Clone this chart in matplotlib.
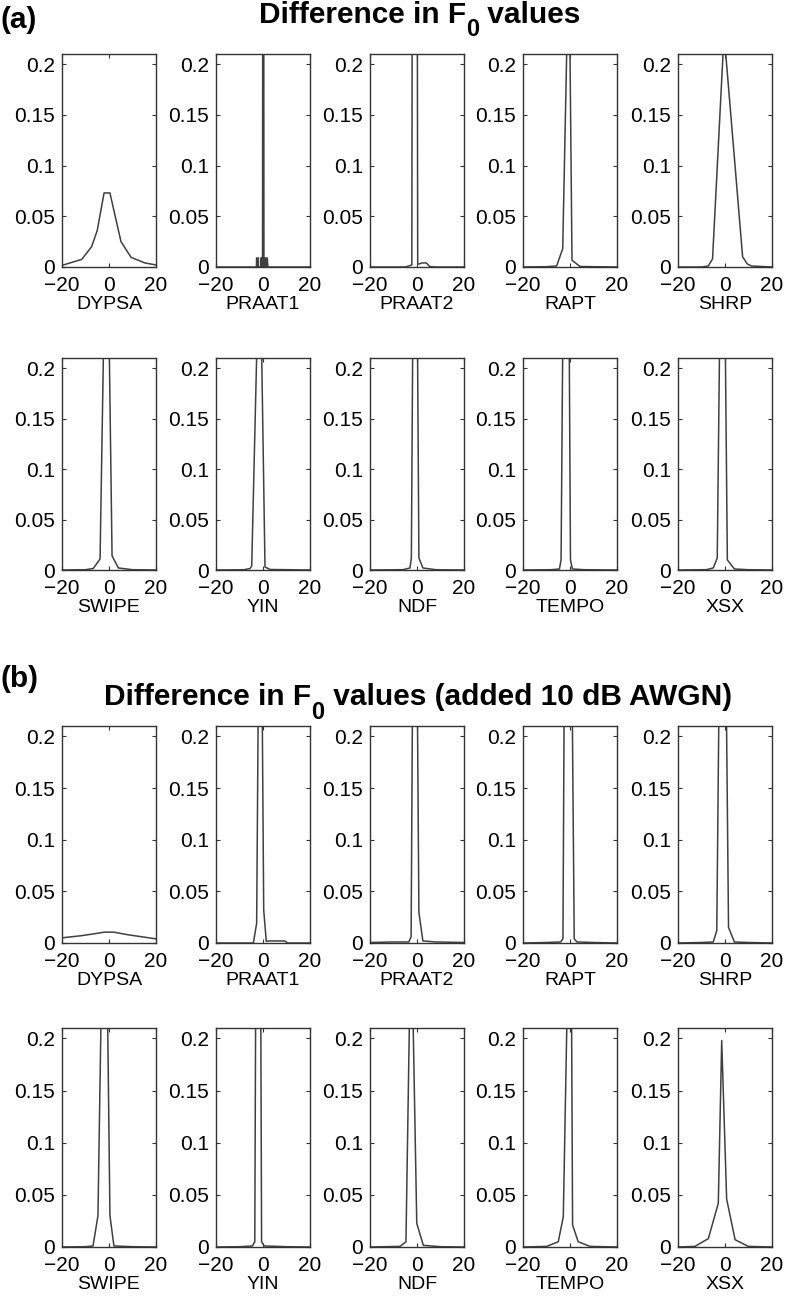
import matplotlib
matplotlib.use('Agg')
import matplotlib.pyplot as plt

plt.rcParams['font.family'] = ['Liberation Sans', 'DejaVu Sans']
plt.rcParams['axes.unicode_minus'] = True

methods = ['DYPSA', 'PRAAT1', 'PRAAT2', 'RAPT', 'SHRP',
           'SWIPE', 'YIN', 'NDF', 'TEMPO', 'XSX']

# (a) clean speech: difference in F0 values (x in Hz, y = relative frequency)
a_dypsa_x = [-20, -11.6, -7.4, -5, -2.1, 0.4, 5.1, 9.4, 15.3, 20]
a_dypsa_y = [0.0016, 0.0075, 0.02, 0.036, 0.073, 0.073, 0.025, 0.0095, 0.004, 0.002]
a_praat1_x = [-20, -2.8, -2.7, -2.6, -2.1, -2.0, -1.9, -0.9, -0.85, -0.6, -0.4,
              -0.2, 0.1, 0.4, 0.6, 0.9, 1.2, 1.5, 1.8, 2.1, 20]
a_praat1_y = [0, 0, 0.009, 0, 0, 0.009, 0, 0, 0.009, 0, 0.009,
              0, 1.0, 0, 0.009, 0, 0.009, 0, 0.009, 0, 0]
a_praat2_x = [-20, -5, -2.2, -1, 0.3, 1, 2, 4, 5.4, 8, 20]
a_praat2_y = [0, 0, 0.002, 2.0, 0.003, 0.003, 0.004, 0.004, 0.0005, 0, 0]
a_rapt_x = [-20, -10, -5.7, -3.1, -0.45, 0.85, 4.3, 10, 20]
a_rapt_y = [0, 0.0003, 0.001, 0.018, 0.32, 0.0066, 0.0005, 0.0003, 0]
a_shrp_x = [-20, -10, -7.1, -5.3, -0.4, 7.5, 9.5, 11.3, 20]
a_shrp_y = [0, 0, 0.001, 0.008, 0.23, 0.01, 0.003, 0.001, 0]
a_swipe_x = [-20, -10, -6.7, -3.8, -1, 1.3, 4, 10, 20]
a_swipe_y = [0, 0.0003, 0.0015, 0.011, 0.41, 0.014, 0.002, 0.0003, 0]
a_yin_x = [-20, -8, -5.5, -4.8, -1.4, 0.85, 3, 10, 20]
a_yin_y = [0, 0.0003, 0.0015, 0.004, 0.34, 0.003, 0.0005, 0.0003, 0]
a_ndf_x = [-20, -6, -3, -2.4, -0.8, 0.8, 2.5, 8, 20]
a_ndf_y = [0, 0.0003, 0.002, 0.012, 0.6, 0.012, 0.002, 0.0003, 0]
a_tempo_x = [-20, -8, -4.5, -3.8, -1.5, 0.2, 1, 6, 20]
a_tempo_y = [0, 0.0003, 0.001, 0.01, 0.7, 0.01, 0.001, 0.0003, 0]
a_xsx_x = [-20, -8, -5, -3.3, -1, 1, 4, 10, 20]
a_xsx_y = [0, 0.0003, 0.002, 0.012, 0.5, 0.01, 0.001, 0.0003, 0]

# (b) speech with added 10 dB AWGN
b_dypsa_x = [-20, -12, -6, -2, 2, 8, 14, 20]
b_dypsa_y = [0.005, 0.007, 0.009, 0.0105, 0.0105, 0.008, 0.006, 0.004]
b_praat1_x = [-20, -4.1, -2.7, -1.2, 0.3, 1.4, 2.5, 9.2, 10.5, 20]
b_praat1_y = [0, 0, 0.019, 0.49, 0.032, 0.0016, 0.002, 0.002, 0, 0]
b_praat2_x = [-20, -10, -3.5, -2.5, -1, 0.8, 2.5, 8, 20]
b_praat2_y = [0.0005, 0.001, 0.001, 0.006, 0.6, 0.03, 0.002, 0.001, 0.0005]
b_rapt_x = [-20, -10, -4, -3, -1.2, 1.8, 3, 10, 20]
b_rapt_y = [0, 0.0005, 0.001, 0.004, 0.8, 0.004, 0.001, 0.0005, 0]
b_shrp_x = [-20, -10, -5, -3.5, -1, 1.5, 4, 10, 20]
b_shrp_y = [0, 0.0005, 0.001, 0.012, 0.6, 0.015, 0.001, 0.0005, 0]
b_swipe_x = [-20, -10, -6.8, -4.7, -1.8, 0.4, 2.1, 10, 20]
b_swipe_y = [0, 0.0003, 0.001, 0.03, 0.45, 0.03, 0.001, 0.0003, 0]
b_yin_x = [-20, -10, -4.5, -3.5, -2, -0.6, 0.5, 10, 20]
b_yin_y = [0, 0.0003, 0.001, 0.005, 0.9, 0.005, 0.001, 0.0003, 0]
b_ndf_x = [-20, -7.2, -4.7, -2.5, -0.1, 2.7, 10, 20]
b_ndf_y = [0, 0.0006, 0.005, 0.32, 0.0226, 0.0016, 0.0003, 0]
b_tempo_x = [-20, -9.9, -5, -2.85, 0.26, 1.1, 3.5, 8.5, 20]
b_tempo_y = [0, 0.0006, 0.005, 0.029, 0.41, 0.021, 0.005, 0.0006, 0]
b_xsx_x = [-20, -12.8, -7.1, -2.85, -1.4, 0.7, 4.3, 9.9, 20]
b_xsx_y = [0, 0.0006, 0.008, 0.042, 0.198, 0.046, 0.007, 0.0006, 0]

series_a = [(a_dypsa_x, a_dypsa_y), (a_praat1_x, a_praat1_y), (a_praat2_x, a_praat2_y),
            (a_rapt_x, a_rapt_y), (a_shrp_x, a_shrp_y), (a_swipe_x, a_swipe_y),
            (a_yin_x, a_yin_y), (a_ndf_x, a_ndf_y), (a_tempo_x, a_tempo_y),
            (a_xsx_x, a_xsx_y)]
series_b = [(b_dypsa_x, b_dypsa_y), (b_praat1_x, b_praat1_y), (b_praat2_x, b_praat2_y),
            (b_rapt_x, b_rapt_y), (b_shrp_x, b_shrp_y), (b_swipe_x, b_swipe_y),
            (b_yin_x, b_yin_y), (b_ndf_x, b_ndf_y), (b_tempo_x, b_tempo_y),
            (b_xsx_x, b_xsx_y)]

W, H = 785, 1298
fig = plt.figure(figsize=(W / 100, H / 100), dpi=100)

# panel layout in pixels
lefts = [62, 216, 370, 523, 678]
panel_w = 94
rows = [(54, 267), (358, 570), (726, 943), (1028, 1247)]

line_col = '#404040'
axis_col = '#333333'


def draw_panel(ax, x, y, label):
    ax.plot(x, y, color=line_col, lw=1.1)
    ax.set_xlim(-20, 20)
    ax.set_ylim(0, 0.21)
    ax.set_xticks([-20, 0, 20])
    ax.set_yticks([0, 0.05, 0.1, 0.15, 0.2])
    ax.set_yticklabels(['0', '0.05', '0.1', '0.15', '0.2'])
    ax.tick_params(direction='in', top=True, right=True, length=3,
                   labelsize=15, color=axis_col)
    ax.tick_params(axis='x', pad=6.5)
    ax.tick_params(axis='y', pad=5)
    for s in ax.spines.values():
        s.set_color(axis_col)
        s.set_linewidth(1.0)
    ax.set_xlabel(label, fontsize=14, labelpad=1)


for r, (top, bot) in enumerate(rows):
    data = series_a if r < 2 else series_b
    for c in range(5):
        idx = (r % 2) * 5 + c
        ax = fig.add_axes([lefts[c] / W, 1 - bot / H, panel_w / W, (bot - top) / H])
        x, y = data[idx]
        draw_panel(ax, x, y, methods[idx])


def title_with_sub(xc, y_base, y_sub, before, sub, after):
    # bold title with a deep subscript, placed piece by piece
    renderer = fig.canvas.get_renderer()
    kw = dict(fontweight='bold', va='baseline', ha='left')
    t1 = fig.text(0, 1 - y_base / H, before, fontsize=21.5, **kw)
    t2 = fig.text(0, 1 - y_sub / H, sub, fontsize=17, **kw)
    t3 = fig.text(0, 1 - y_base / H, after, fontsize=21.5, **kw)
    w1 = t1.get_window_extent(renderer).width
    w2 = t2.get_window_extent(renderer).width
    w3 = t3.get_window_extent(renderer).width
    x0 = xc - (w1 + w2 + w3) / 2
    t1.set_x(x0 / W)
    t2.set_x((x0 + w1) / W)
    t3.set_x((x0 + w1 + w2) / W)


fig.text(0 / W, 1 - 28 / H, '(a)', fontsize=21.5, fontweight='bold', va='baseline', ha='left')
title_with_sub(420, 23, 36, 'Difference in F', '0', ' values')
fig.text(0 / W, 1 - 687 / H, '(b)', fontsize=21.5, fontweight='bold', va='baseline', ha='left')
title_with_sub(418, 705, 719, 'Difference in F', '0', ' values (added 10 dB AWGN)')

fig.savefig('out.png', dpi=100, facecolor='white')
